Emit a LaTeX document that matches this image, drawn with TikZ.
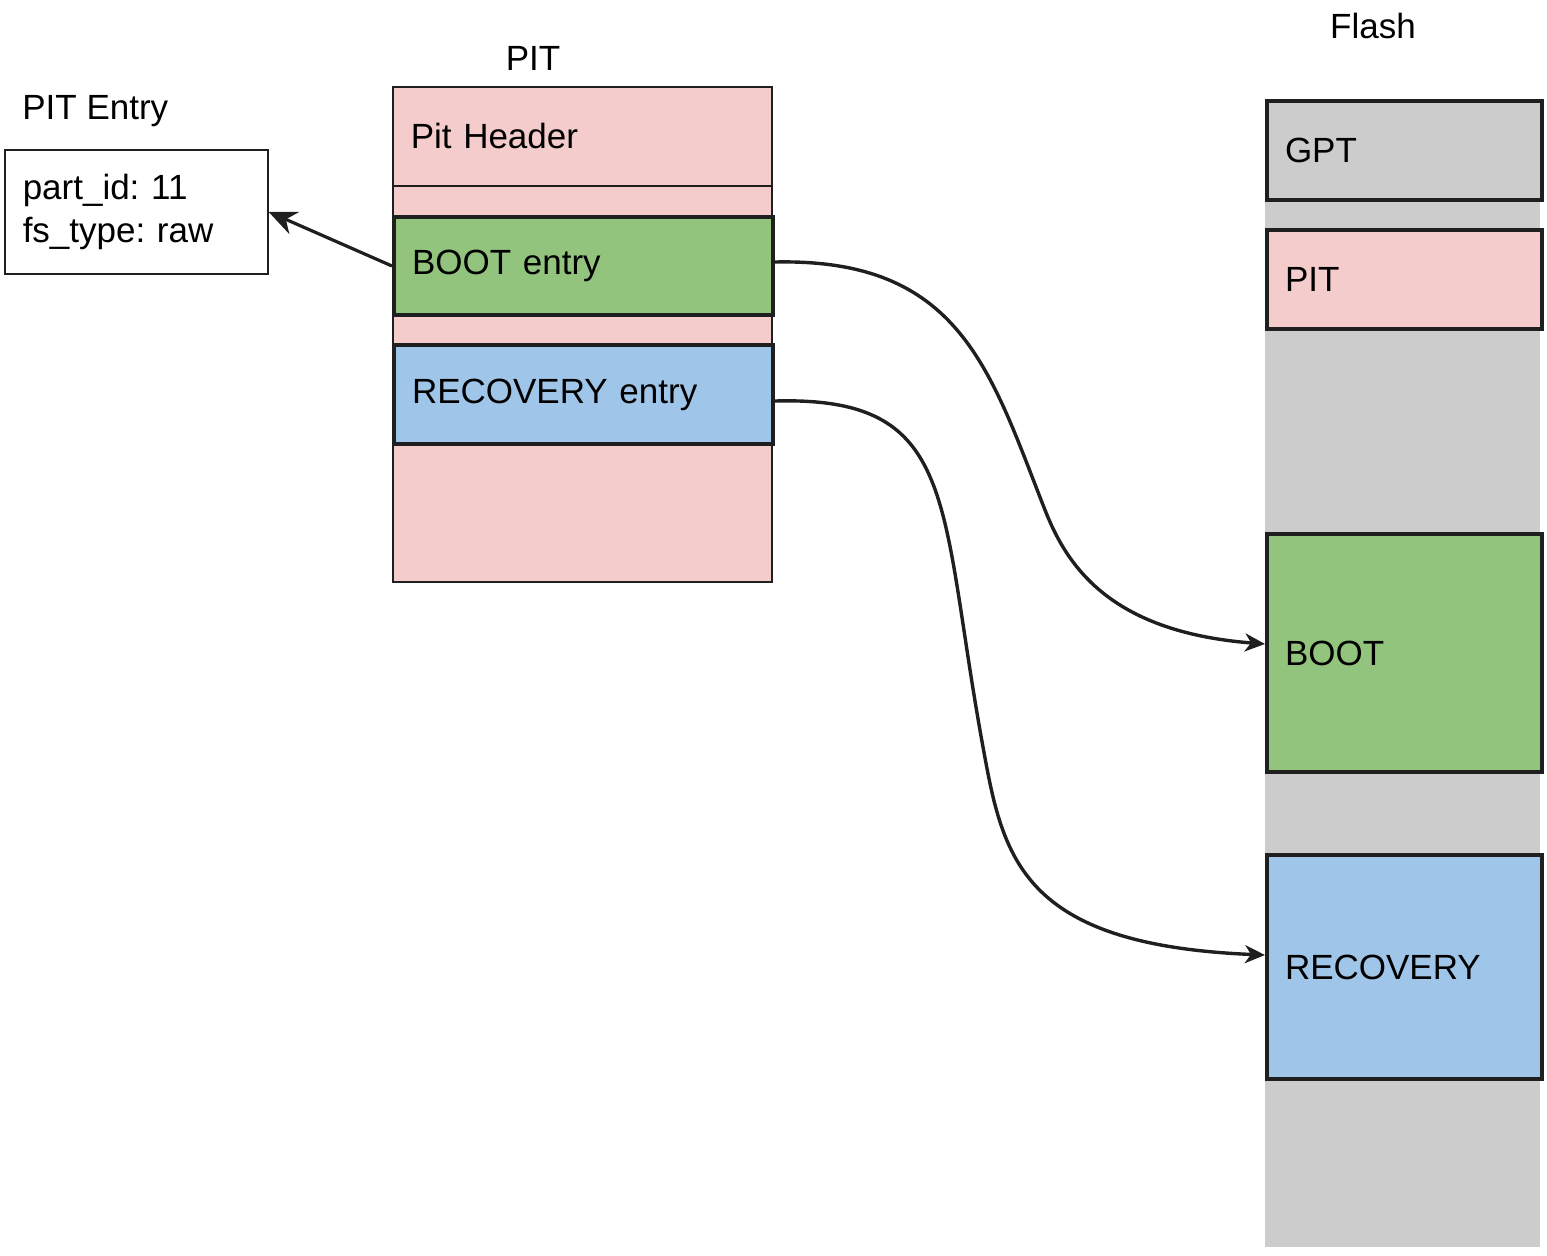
\documentclass[tikz,border=0pt]{standalone}
\usepackage{fontspec}
\setmainfont{Liberation Sans}
\frenchspacing
\usetikzlibrary{arrows.meta}
\definecolor{pinkf}{HTML}{F4CCCC}
\definecolor{greenf}{HTML}{93C47D}
\definecolor{bluef}{HTML}{9FC5E8}
\definecolor{grayf}{HTML}{CCCCCC}
\definecolor{ink}{HTML}{1F1F1F}
\tikzset{
  base/.style={rectangle, anchor=north west, inner sep=0pt, font=\fontsize{17.5}{21.5}\selectfont, align=left},
  thinbox/.style={base, draw=ink, line width=0.75pt},
  thickbox/.style={base, draw=ink, line width=2pt},
  lbl/.style={font=\fontsize{17.5}{21.5}\selectfont, inner sep=0pt},
  conn/.style={draw=ink, line width=1.6pt, -{Stealth[length=14pt,width=12pt]}},
  curveconn/.style={draw=ink, line width=1.7pt, -{Stealth[length=10pt,width=9pt,inset=3pt]}}
}
\begin{document}
\begin{tikzpicture}[x=0.5pt,y=-0.5pt]
\useasboundingbox (0,0) rectangle (1547,1255);
% labels
\node[lbl, anchor=west] (lblentry) at (22,111) {PIT Entry};
\node[lbl] (lblpit) at (533,58) {PIT};
\node[lbl] (lblflash) at (1373,26) {Flash};
% PIT entry box
\node[thinbox, fill=white, minimum width=131.5pt, minimum height=62pt, text width=113.5pt] (entrybox) at (4,149) {part\_id: 11\\fs\_type: raw};
% PIT column
\node[thinbox, fill=pinkf, minimum width=189.5pt, minimum height=247.5pt] (pitcol) at (392,86) {};
\node[thinbox, fill=pinkf, minimum width=189.5pt, minimum height=49.5pt, text width=171.5pt] (pithdr) at (392,86) {Pit Header};
\node[thickbox, fill=greenf, minimum width=189.5pt, minimum height=49pt, text width=171.5pt] (bootentry) at (392,215) {BOOT entry};
\node[thickbox, fill=bluef, minimum width=189.5pt, minimum height=49.5pt, text width=171.5pt] (recentry) at (392,343) {RECOVERY entry};
% Flash column
\node[base, fill=grayf, minimum width=137.5pt, minimum height=573.5pt] (flashcol) at (1265,100) {};
\node[thickbox, fill=grayf, minimum width=137.5pt, minimum height=49.5pt, text width=119.5pt] (gpt) at (1265,99) {GPT};
\node[thickbox, fill=pinkf, minimum width=137.5pt, minimum height=49.5pt, text width=119.5pt] (pitf) at (1265,228) {PIT};
\node[thickbox, fill=greenf, minimum width=137.5pt, minimum height=119pt, text width=119.5pt] (bootf) at (1265,532) {BOOT};
\node[thickbox, fill=bluef, minimum width=137.5pt, minimum height=112pt, text width=119.5pt] (recf) at (1265,853) {RECOVERY};
% connectors
\draw[conn] (bootentry.west) -- (entrybox.east);
\draw[curveconn] ([yshift=2pt]bootentry.east) .. controls (960,258) and (990,370) .. (1045,510)
  .. controls (1067,566) and (1110,632) .. ([yshift=4.5pt]bootf.west);
\draw[curveconn] ([yshift=-3.25pt]recentry.east) .. controls (960,396) and (938,502) .. (983,747)
  .. controls (1003,857) and (1020,945) .. ([yshift=6pt]recf.west);
\end{tikzpicture}
\end{document}
